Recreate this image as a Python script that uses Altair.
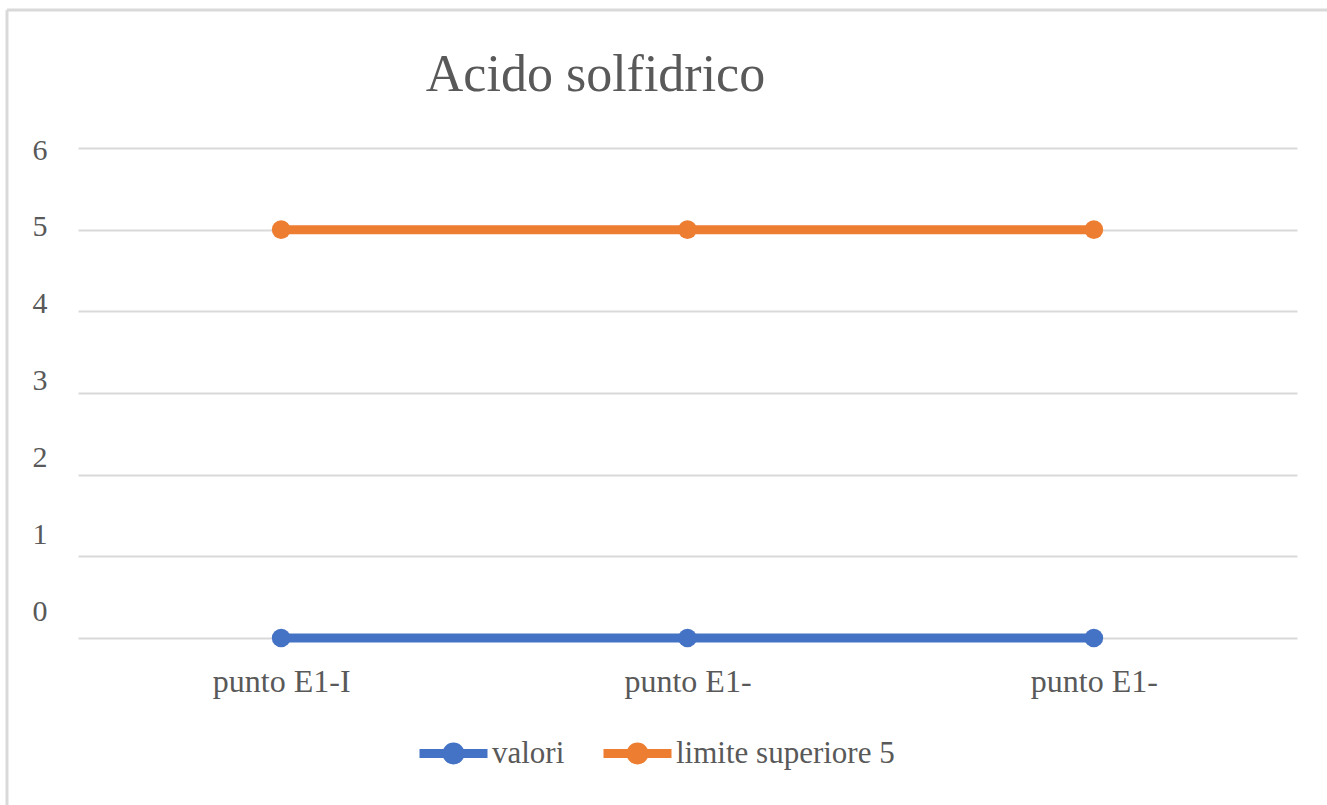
import json

import altair as alt
import pandas as pd

# ---- values -------------------------------------------------------------
title_text = "Acido solfidrico"
category_labels = ["punto E1-I", "punto E1-", "punto E1-"]
valori = [0, 0, 0]
limite_superiore = [5, 5, 5]
series_names = ["valori", "limite superiore 5"]
series_colors = ["#4472C4", "#ED7D31"]
y_ticks = [0, 1, 2, 3, 4, 5, 6]

# long table: one row per (position, series)
rows = []
for i in range(len(category_labels)):
    rows.append({"pos": i, "serie": series_names[0], "valore": valori[i]})
    rows.append({"pos": i, "serie": series_names[1], "valore": limite_superiore[i]})
df = pd.DataFrame(rows)

FONT = "Liberation Serif, Times New Roman, serif"
TEXT = "#595959"
GRID = "#D9D9D9"

W, H = 1219, 490
PAD = {"left": 78, "top": 148, "right": 30, "bottom": 167}

# categories share labels, so positions are indices mapped back to text
label_expr = json.dumps(category_labels) + "[datum.value]"

x_enc = alt.X(
    "pos:O",
    scale=alt.Scale(type="point", padding=0.5),
    axis=alt.Axis(
        title=None,
        labelExpr=label_expr,
        labelAngle=0,
        labelFont=FONT,
        labelFontSize=32,
        labelColor=TEXT,
        labelPadding=28,
        domain=False,
        ticks=False,
        grid=False,
    ),
)

y_enc = alt.Y(
    "valore:Q",
    scale=alt.Scale(domain=[0, 6], nice=False, zero=True),
    axis=alt.Axis(
        title=None,
        values=y_ticks,
        format="d",
        labelFont=FONT,
        labelFontSize=30,
        labelColor=TEXT,
        labelPadding=31,
        labelBaseline="middle",
        labelOffset={"expr": "2 - (6 - datum.value) * 4.78"},
        domain=False,
        ticks=False,
        grid=True,
        gridColor=GRID,
        gridWidth=2,
    ),
)

# legend glyph: horizontal bar with a round marker in the middle
legend_symbol = (
    "M-1,0H1 "
    "M0.191,0A0.191,0.191 0 1,1 -0.191,0A0.191,0.191 0 1,1 0.191,0 "
    "M0.03,0A0.03,0.03 0 1,1 -0.03,0A0.03,0.03 0 1,1 0.03,0"
)

lines = alt.Chart(df).mark_line(strokeWidth=9).encode(
    x=x_enc,
    y=y_enc,
    color=alt.Color(
        "serie:N",
        scale=alt.Scale(domain=series_names, range=series_colors),
        legend=alt.Legend(
            title=None,
            orient="none",
            direction="horizontal",
            legendX=337,
            legendY=567,
            symbolType=legend_symbol,
            symbolSize=4624,
            symbolStrokeWidth=9,
            labelFont=FONT,
            labelFontSize=31,
            labelColor=TEXT,
            labelLimit=0,
            labelOffset=0,
            columnPadding=20,
            padding=0,
        ),
    ),
    detail="serie:N",
)

points = alt.Chart(df).mark_point(filled=True, size=350, opacity=1).encode(
    x="pos:O",
    y="valore:Q",
    fill=alt.Fill(
        "serie:N",
        scale=alt.Scale(domain=series_names, range=series_colors),
        legend=None,
    ),
)

# thin frame along the top and left edges of the canvas
frame_src = alt.Data(values=[{"k": 0}])
frame_left = alt.Chart(frame_src).mark_rule(color=GRID, strokeWidth=3).encode(
    x=alt.value(7 - PAD["left"]),
    y=alt.value(10 - PAD["top"]),
    y2=alt.value(805 - PAD["top"]),
)
frame_top = alt.Chart(frame_src).mark_rule(color=GRID, strokeWidth=3).encode(
    x=alt.value(7 - PAD["left"]),
    x2=alt.value(1327 - PAD["left"]),
    y=alt.value(10 - PAD["top"]),
)

chart = (
    alt.layer(frame_left, frame_top, lines, points)
    .properties(
        width=W,
        height=H,
        autosize="none",
        padding=PAD,
        background="white",
        title=alt.TitleParams(
            text=title_text,
            font=FONT,
            fontSize=52,
            fontWeight="normal",
            color=TEXT,
            anchor="middle",
            dx=-92,
            offset=-134,
            baseline="alphabetic",
        ),
    )
    .configure_view(stroke=None)
    .configure_legend(labelFont=FONT, labelFontSize=31, labelColor=TEXT)
)

chart.save("out.html", embed_options={"renderer": "svg", "actions": False})
